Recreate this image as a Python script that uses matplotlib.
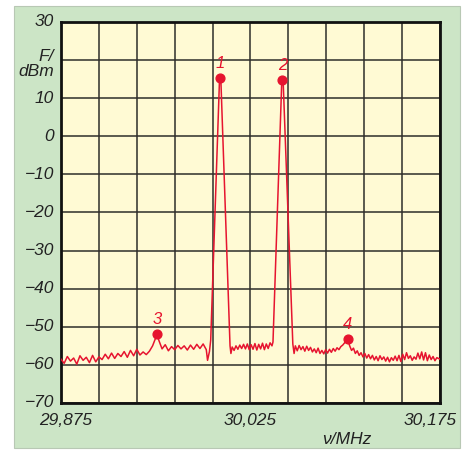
import numpy as np
import matplotlib.pyplot as plt
from matplotlib.patches import Rectangle

# ── trace data (MHz, dBm) ─────────────────────────────────────
freq_left = [29.875, 29.8775, 29.880, 29.8825, 29.885, 29.8875, 29.890, 29.8925,
             29.895, 29.8975, 29.900, 29.9025, 29.905, 29.9075, 29.910, 29.9125,
             29.915, 29.9175, 29.920, 29.9225, 29.925, 29.9275, 29.930, 29.9325,
             29.935, 29.9375, 29.940, 29.9425, 29.945, 29.9475, 29.950, 29.951,
             29.9525, 29.955, 29.9575, 29.960, 29.9625, 29.965, 29.9675, 29.970,
             29.9725, 29.975, 29.9775, 29.980, 29.9825, 29.985, 29.9875, 29.990,
             29.991, 29.9925]
level_left = [-58.5, -59.6, -57.8, -59.0, -58.2, -59.8, -57.6, -58.8,
              -58.0, -59.4, -57.5, -59.2, -57.9, -58.6, -57.2, -58.4,
              -56.9, -58.3, -57.0, -57.8, -56.5, -58.0, -56.2, -57.6,
              -55.9, -57.4, -56.6, -57.3, -56.4, -55.0, -52.8, -52.0,
              -53.6, -55.8, -54.7, -56.3, -55.2, -56.0, -54.9, -55.8,
              -55.0, -56.1, -54.8, -55.9, -54.6, -55.7, -54.5, -56.0,
              -58.8, -56.5]

freq_peak1 = [29.9935, 30.0005, 30.0015, 30.0088, 30.0095]
level_peak1 = [-53.5, 15.2, 15.2, -55.0, -57.0]

freq_mid = [30.0105, 30.012, 30.0135, 30.015, 30.0165, 30.018, 30.0195, 30.021,
            30.0225, 30.024, 30.0255, 30.027, 30.0285, 30.030, 30.0315, 30.033,
            30.0345, 30.036, 30.0375, 30.039, 30.0405, 30.042]
level_mid = [-55.3, -56.2, -55.0, -55.9, -54.8, -55.7, -54.6, -55.8,
             -54.5, -56.0, -54.7, -55.9, -54.4, -56.1, -54.6, -55.8,
             -54.3, -56.0, -54.5, -55.7, -54.2, -55.0]

freq_peak2 = [30.0428, 30.0498, 30.0508, 30.0585, 30.0595]
level_peak2 = [-54.0, 14.9, 14.9, -54.5, -57.0]

freq_right = [30.0605, 30.062, 30.0635, 30.065, 30.0665, 30.068, 30.0695, 30.071,
              30.0725, 30.074, 30.0755, 30.077, 30.0785, 30.080, 30.0815, 30.083,
              30.0845, 30.086, 30.0875, 30.089, 30.0905, 30.092, 30.0935, 30.095,
              30.0965, 30.098, 30.100, 30.102, 30.1035, 30.105, 30.1065, 30.108,
              30.1095, 30.111, 30.1125, 30.114, 30.1155, 30.117, 30.1185, 30.120,
              30.1215, 30.123, 30.1245, 30.126, 30.1275, 30.129, 30.1305, 30.132,
              30.1335, 30.135, 30.1365, 30.138, 30.1395, 30.141, 30.1425, 30.144,
              30.1455, 30.147, 30.1485, 30.150, 30.1515, 30.153, 30.1545, 30.156,
              30.1575, 30.159, 30.1605, 30.162, 30.1635, 30.165, 30.1665, 30.168,
              30.1695, 30.171, 30.1725, 30.175]
level_right = [-55.0, -56.3, -54.9, -56.0, -55.2, -56.4, -55.1, -56.2,
               -55.4, -56.6, -55.8, -56.8, -55.6, -57.0, -56.2, -57.1,
               -56.0, -56.9, -55.9, -56.7, -55.7, -56.4, -55.5, -56.0,
               -55.2, -54.8, -54.0, -53.3, -55.0, -56.2, -55.6, -57.0,
               -56.3, -57.5, -56.8, -57.9, -57.0, -58.2, -57.3, -58.4,
               -57.5, -58.7, -57.8, -58.9, -57.6, -58.6, -57.9, -59.0,
               -58.0, -59.2, -58.1, -58.8, -57.7, -58.9, -57.5, -59.1,
               -57.2, -58.6, -56.8, -58.3, -57.6, -58.8, -57.9, -58.5,
               -56.9, -58.4, -56.6, -58.7, -56.8, -58.9, -57.4, -58.6,
               -57.8, -58.9, -58.1, -58.5]

# markers
marker_ids = ["1", "2", "3", "4"]
marker_freq = [30.001, 30.0503, 29.951, 30.102]
marker_level = [15.2, 14.9, -52.0, -53.3]

y_ticks = [30, 10, 0, -10, -20, -30, -40, -50, -60, -70]
y_labels = ["30", "10", "0", "\u221210", "\u221220", "\u221230", "\u221240",
            "\u221250", "\u221260", "\u221270"]
x_label_vals = [29.875, 30.025, 30.175]
x_label_txt = ["29,875", "30,025", "30,175"]

RED = "#e6142f"
GREEN = "#cce5c6"
PAPER = "#fffad4"
INK = "#222222"

plt.rcParams["font.family"] = ["Liberation Sans", "DejaVu Sans"]

fig = plt.figure(figsize=(4.7, 4.5), dpi=100)
fig.patch.set_facecolor("white")
fig.patches.append(Rectangle((14 / 470, 1 - 448 / 450), 446 / 470, 442 / 450,
                             transform=fig.transFigure, facecolor=GREEN,
                             edgecolor="#b8c8b4", linewidth=0.8, zorder=-10))

ax = fig.add_axes([61 / 470, 1 - 403 / 450, 379 / 470, 381 / 450])
ax.set_facecolor(PAPER)

freq = freq_left + freq_peak1 + freq_mid + freq_peak2 + freq_right
level = level_left + level_peak1 + level_mid + level_peak2 + level_right
ax.plot(freq, level, color=RED, linewidth=1.1, zorder=3)
ax.scatter(marker_freq, marker_level, s=40, color=RED, zorder=4)
for mid, mf, ml in zip(marker_ids, marker_freq, marker_level):
    ax.annotate(mid, (mf, ml), xytext=(0, 5), textcoords="offset points",
                ha="center", va="bottom", color=RED, fontsize=12, style="italic")

ax.set_xlim(29.875, 30.175)
ax.set_ylim(-70, 30)
ax.set_xticks(np.linspace(29.875, 30.175, 11))
ax.set_yticks(np.arange(-70, 31, 10))
ax.grid(True, color="#2e2e2a", linewidth=1.1)
ax.set_axisbelow(True)
ax.tick_params(length=0, labelbottom=False, labelleft=False)
for sp in ax.spines.values():
    sp.set_linewidth(2)
    sp.set_color("#111111")

# axis labels as text
for v, t in zip(y_ticks, y_labels):
    ax.text(-0.018, v, t, transform=ax.get_yaxis_transform(), ha="right",
            va="center", fontsize=12.5, style="italic", color=INK)
ax.text(-0.018, 19.0, "F/\ndBm", transform=ax.get_yaxis_transform(), ha="right",
        va="center", fontsize=12.5, style="italic", color=INK,
        linespacing=0.95)

x_offsets = [0.0035, 0.0, -0.008]
for v, t, off in zip(x_label_vals, x_label_txt, x_offsets):
    ax.text(v + off, -0.025, t, transform=ax.get_xaxis_transform(), ha="center",
            va="top", fontsize=12.5, style="italic", color=INK)
ax.text(30.101, -0.075, "\u03bd/MHz", transform=ax.get_xaxis_transform(),
        ha="center", va="top", fontsize=12.5, style="italic", color=INK)

fig.savefig("out.png", dpi=100)
